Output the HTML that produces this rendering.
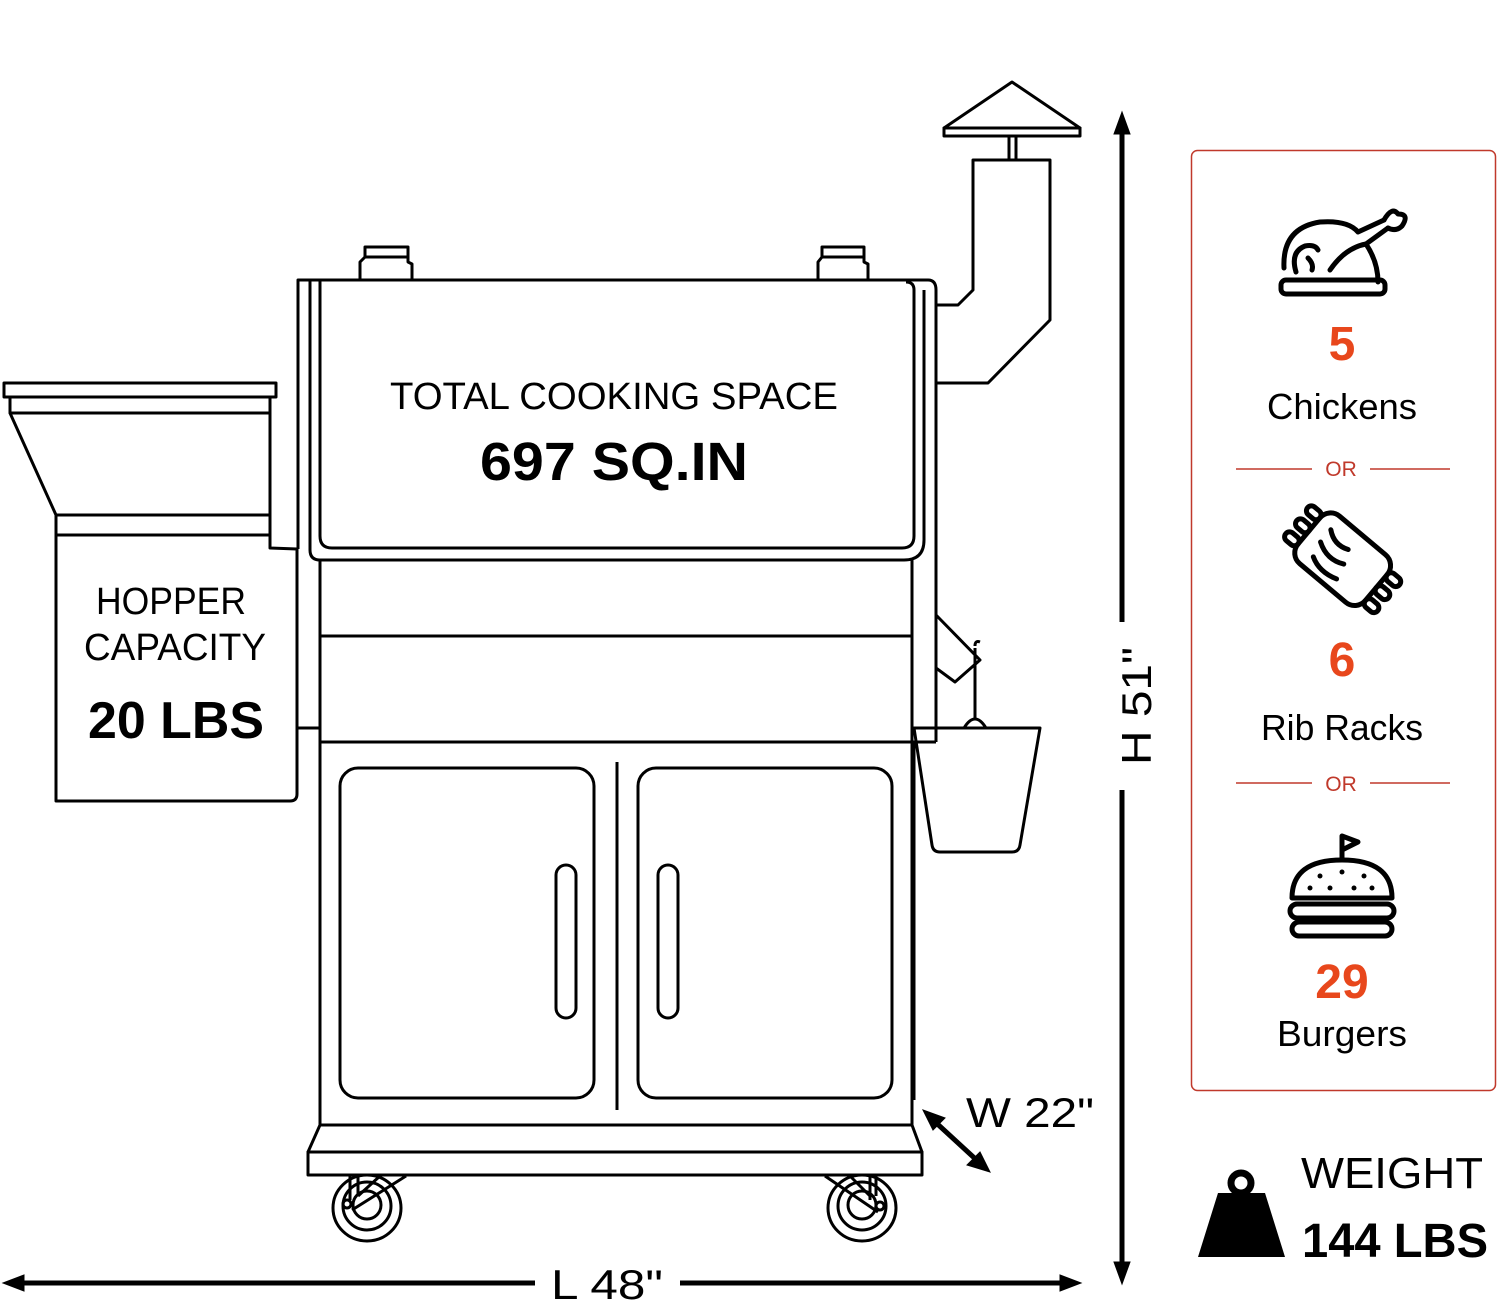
<!DOCTYPE html>
<html><head><meta charset="utf-8"><style>html,body{margin:0;padding:0;background:#fff}svg{display:block}</style></head>
<body>
<svg width="1500" height="1303" viewBox="0 0 1500 1303" xmlns="http://www.w3.org/2000/svg" font-family="Liberation Sans, DejaVu Sans, sans-serif">
<g fill="none" stroke="#000" stroke-width="3" stroke-linejoin="round">
<rect x="4" y="383" width="272" height="14"/>
<path d="M10 397 V413 H270 V397"/>
<path d="M10 413 L56 515 H270 V413"/>
<path d="M56 515 V535 H270 V515"/>
<path d="M56 535 V801 H290 Q297 801 297 794 V549 L270 548 V535"/>
<path d="M298 549 V280 H928 Q936 280 936 290 V742"/>
<path d="M298 728 H320"/>
<path d="M310 280 V550 Q310 560 320 560 H904 Q924 560 924 540 V290"/>
<path d="M320 280 V536 Q320 548 332 548 H902 Q914 548 914 536 V290 Q914 282 906 282"/>
<path d="M320 560 V1125 M912 560 V1125"/>
<path d="M320 636 H912 M320 742 H936"/>
<path d="M360 280 V262 L365 257 V247 H408 V262 L412 264 V280 M365 257 H408"/>
<path d="M818 280 V262 L822 257 V247 H864 V262 L868 264 V280 M822 257 H864"/>
<rect x="340" y="768" width="254" height="330" rx="18"/>
<rect x="638" y="768" width="254" height="330" rx="18"/>
<path d="M617 762 V1110"/>
<rect x="556" y="865" width="20" height="153" rx="10"/>
<rect x="658" y="865" width="20" height="153" rx="10"/>
<path d="M320 1125 H912 L922 1152 H308 Z"/>
<rect x="308" y="1152" width="614" height="23"/>
<g>
<ellipse cx="367" cy="1208" rx="34" ry="33"/>
<ellipse cx="367" cy="1206" rx="24" ry="24"/>
<ellipse cx="367" cy="1205" rx="14" ry="14"/>
<circle cx="347" cy="1204" r="4"/>
<path d="M350 1176 V1200 M358 1176 V1196 M358 1196 L380 1176 M352 1210 L406 1176"/>
</g>
<g>
<ellipse cx="862" cy="1208" rx="34" ry="33"/>
<ellipse cx="862" cy="1206" rx="24" ry="24"/>
<ellipse cx="862" cy="1205" rx="14" ry="14"/>
<circle cx="880" cy="1206" r="4"/>
<path d="M870 1176 V1200 M876 1176 V1196 M870 1196 L850 1176 M878 1212 L825 1176"/>
</g>
<path d="M944 128 L1012 82 L1080 128 Z"/>
<rect x="944" y="128" width="136" height="8"/>
<path d="M1009 136 V160 M1016 136 V160"/>
<path d="M936 305 H958 L973 290 V160 H1050 V320 L988 383 H936"/>
<path d="M936 615 L980 660 L955 682 L936 668"/>
<path d="M975 648 V718 M975 646 Q975 640 980 642"/>
<path d="M964 728 Q975 710 986 728"/>
<path d="M914 728 H1040 L1020 845 Q1019 852 1012 852 H940 Q933 852 932 845 Z"/>
<path d="M914 742 V1100"/>
</g>
<g stroke="#000" stroke-width="5" fill="#000">
<path d="M1122 128 V622 M1122 790 V1268"/>
<path d="M1122 112 L1114 134 H1130 Z M1122 1284 L1114 1262 H1130 Z" stroke-width="1"/>
<path d="M18 1283 H535 M680 1283 H1065"/>
<path d="M3 1283 L24 1275 V1291 Z M1081 1283 L1060 1275 V1291 Z" stroke-width="1"/>
<path d="M932 1119 L982 1165"/>
<path d="M923 1110 L945 1118 L933 1130 Z M990 1172 L967 1165 L980 1152 Z" stroke-width="1"/>
</g>
<g fill="#000">
<text x="1140" y="706" font-size="42" text-anchor="middle" transform="rotate(-90 1140 706)" dominant-baseline="middle" textLength="118" lengthAdjust="spacingAndGlyphs">H 51"</text>
<text x="607" y="1299" font-size="42" text-anchor="middle" textLength="112" lengthAdjust="spacingAndGlyphs">L 48"</text>
<text x="1030" y="1127" font-size="42" text-anchor="middle" textLength="128" lengthAdjust="spacingAndGlyphs">W 22"</text>
<text x="614" y="409" font-size="38" text-anchor="middle" textLength="448" lengthAdjust="spacingAndGlyphs">TOTAL COOKING SPACE</text>
<text x="614" y="480" font-size="54" font-weight="bold" text-anchor="middle" textLength="268" lengthAdjust="spacingAndGlyphs">697 SQ.IN</text>
<text x="171" y="614" font-size="38" text-anchor="middle" textLength="150" lengthAdjust="spacingAndGlyphs">HOPPER</text>
<text x="175" y="660" font-size="38" text-anchor="middle" textLength="182" lengthAdjust="spacingAndGlyphs">CAPACITY</text>
<text x="176" y="738" font-size="52" font-weight="bold" text-anchor="middle" textLength="176" lengthAdjust="spacingAndGlyphs">20 LBS</text>
<text x="1392" y="1188" font-size="44" text-anchor="middle" textLength="182" lengthAdjust="spacingAndGlyphs">WEIGHT</text>
<text x="1395" y="1257" font-size="48" font-weight="bold" text-anchor="middle" textLength="186" lengthAdjust="spacingAndGlyphs">144 LBS</text>
</g>
<g>
<circle cx="1241" cy="1183" r="10" fill="none" stroke="#000" stroke-width="7"/>
<path d="M1218 1193 H1265 L1285 1257 H1198 Z" fill="#000"/>
</g>
<rect x="1191.5" y="150.5" width="304" height="940" rx="6" fill="none" stroke="#c0392b" stroke-width="1.5"/>
<g fill="none" stroke="#000" stroke-width="5" stroke-linecap="round" stroke-linejoin="round">
<path d="M1284 268 Q1282 228 1320 222 Q1348 220 1358 232 L1384 220"/>
<path d="M1384 220 Q1392 206 1398 214 Q1410 214 1402 226 Q1396 232 1388 228"/>
<path d="M1388 228 L1366 244 Q1378 262 1378 282"/>
<path d="M1366 244 Q1345 248 1330 270"/>
<path d="M1296 272 Q1290 252 1305 246 Q1315 244 1318 250 M1308 258 Q1314 264 1312 270"/>
<rect x="1281" y="280" width="104" height="14" rx="5"/>
<g transform="rotate(40 1342 560)">
<rect x="1298" y="528" width="88" height="62" rx="14"/>
<rect x="1282" y="537" width="16" height="10" rx="5"/>
<rect x="1282" y="554" width="16" height="10" rx="5"/>
<rect x="1282" y="571" width="16" height="10" rx="5"/>
<rect x="1386" y="537" width="16" height="10" rx="5"/>
<rect x="1386" y="554" width="16" height="10" rx="5"/>
<rect x="1386" y="571" width="16" height="10" rx="5"/>
<path d="M1314 544 Q1326 554 1340 548 M1314 560 Q1330 570 1346 562 M1318 576 Q1332 584 1350 578"/>
</g>
<path d="M1342 860 V836 L1358 842 L1342 850"/>
<path d="M1292 898 Q1292 860 1342 860 Q1392 860 1392 898 Z"/>
<rect x="1290" y="904" width="104" height="14" rx="7"/>
<rect x="1292" y="922" width="100" height="14" rx="7"/>
</g>
<g fill="#000"><circle cx="1320" cy="876" r="2.5"/><circle cx="1342" cy="872" r="2.5"/><circle cx="1364" cy="876" r="2.5"/><circle cx="1330" cy="888" r="2.5"/><circle cx="1354" cy="888" r="2.5"/><circle cx="1310" cy="888" r="2.5"/><circle cx="1372" cy="888" r="2.5"/></g>
<g text-anchor="middle">
<text x="1342" y="360" font-size="48" font-weight="bold" fill="#e8471c">5</text>
<text x="1342" y="419" font-size="36" fill="#000" textLength="150" lengthAdjust="spacingAndGlyphs">Chickens</text>
<text x="1341" y="476" font-size="21" fill="#c0392b">OR</text>
<text x="1342" y="676" font-size="48" font-weight="bold" fill="#e8471c">6</text>
<text x="1342" y="740" font-size="36" fill="#000" textLength="162" lengthAdjust="spacingAndGlyphs">Rib Racks</text>
<text x="1341" y="791" font-size="21" fill="#c0392b">OR</text>
<text x="1342" y="998" font-size="48" font-weight="bold" fill="#e8471c">29</text>
<text x="1342" y="1046" font-size="36" fill="#000" textLength="130" lengthAdjust="spacingAndGlyphs">Burgers</text>
</g>
<g stroke="#c0392b" stroke-width="1.5"><path d="M1236 469 H1312 M1370 469 H1450 M1236 783 H1312 M1370 783 H1450"/></g>
</svg>
</body></html>
